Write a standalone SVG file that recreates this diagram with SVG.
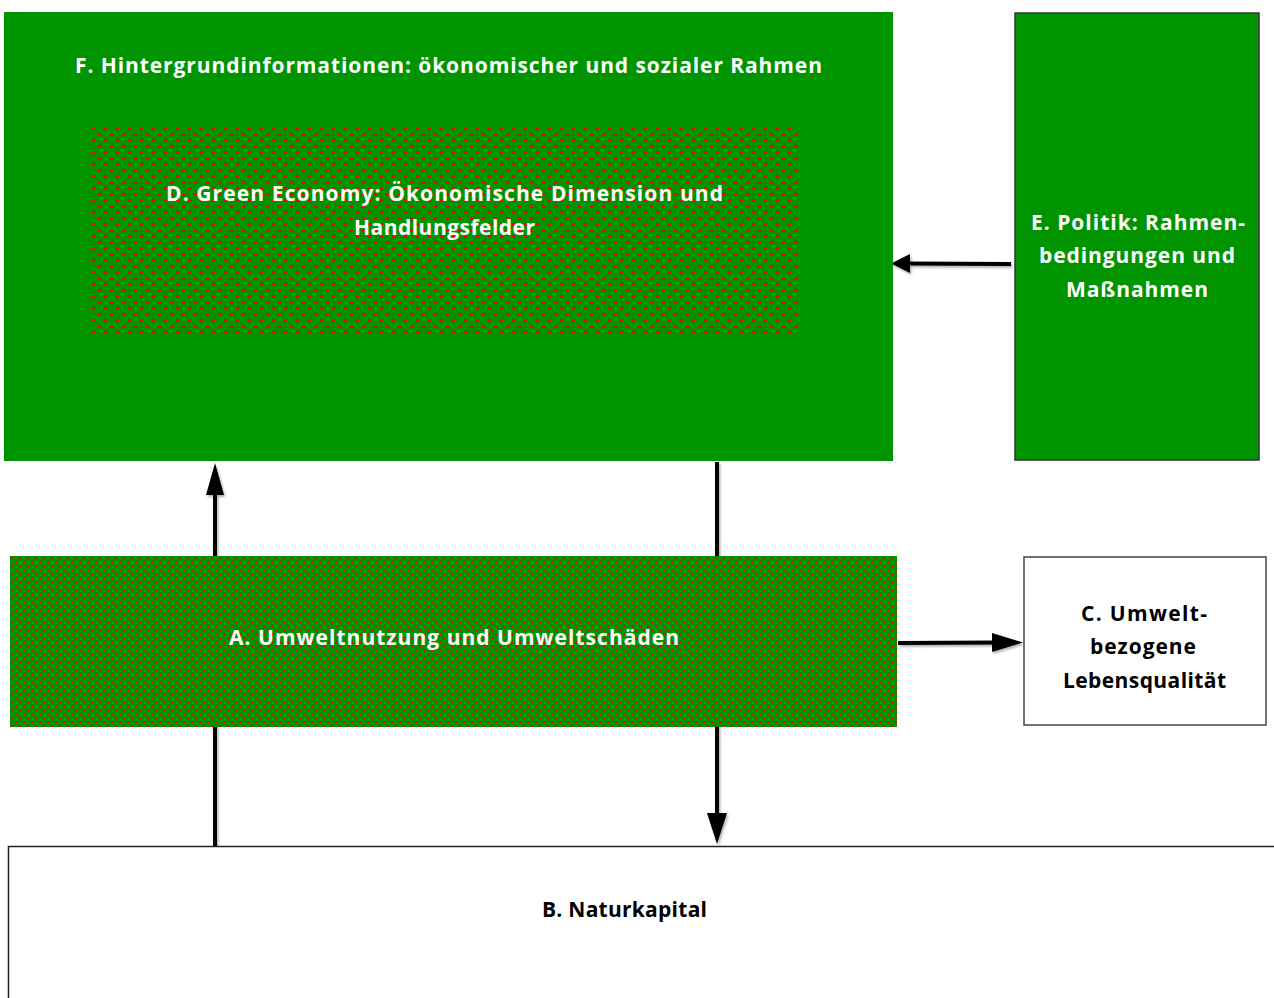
<svg xmlns="http://www.w3.org/2000/svg" width="1274" height="998" viewBox="0 0 1274 998">
  <style>
    .lbl { font-family: "Open Sans", "Liberation Sans", Arial, sans-serif; font-weight: bold; font-size: 21px; text-anchor: middle; }
    .w { fill: #ffffff; }
    .k { fill: #000000; }
    .green { fill: #009400; }
    .edge { fill: none; stroke: #000000; stroke-width: 4; }
    .tip { fill: #000000; }
  </style>
  <defs>
    <!-- coarse red dot raster on green -->
    <pattern id="dotsCoarse" x="91" y="126" width="12" height="12" patternUnits="userSpaceOnUse">
      <rect width="12" height="12" fill="#009400"/>
      <rect x="1" y="1" width="3" height="3" fill="#ff0000"/>
      <rect x="7" y="7" width="3" height="3" fill="#ff0000"/>
    </pattern>
    <!-- fine red dot raster on green -->
    <pattern id="dotsFine" x="10" y="556" width="8" height="8" patternUnits="userSpaceOnUse">
      <rect width="8" height="8" fill="#009400"/>
      <rect x="1" y="1" width="2.5" height="2.5" fill="#ff0000"/>
      <rect x="5" y="5" width="2.5" height="2.5" fill="#ff0000"/>
    </pattern>
    <filter id="shade" x="-10%" y="-10%" width="130%" height="130%">
      <feDropShadow dx="1.5" dy="2" stdDeviation="1.2" flood-color="#000000" flood-opacity="0.3"/>
    </filter>
  </defs>

  <rect width="1274" height="998" fill="#ffffff"/>

  <!-- connectors -->
  <g id="connectors" filter="url(#shade)">
    <!-- B up to F (passes behind A) -->
    <line class="edge" x1="215" y1="846" x2="215" y2="492"/>
    <polygon class="tip" points="215,463 224,495 206,495"/>
    <!-- F down to B (passes behind A) -->
    <line class="edge" x1="717" y1="462" x2="717" y2="816"/>
    <polygon class="tip" points="717,844 707,813 727,813"/>
    <!-- E to F -->
    <line class="edge" x1="1011" y1="264" x2="908" y2="263.5"/>
    <polygon class="tip" points="891,263.5 910,254 910,273"/>
    <!-- A to C -->
    <line class="edge" x1="898" y1="643" x2="995" y2="642.5"/>
    <polygon class="tip" points="1023,642.5 992,633 992,652"/>
  </g>

  <g id="nodeF">
    <rect class="green" x="4" y="12" width="889" height="449"/>
    <text class="lbl w" x="448.5" y="73" textLength="747" lengthAdjust="spacing">F. Hintergrundinformationen: ökonomischer und sozialer Rahmen</text>
  </g>

  <g id="nodeD">
    <rect x="91" y="126" width="706" height="207" fill="url(#dotsCoarse)"/>
    <text class="lbl w" x="444.5" y="201" textLength="557" lengthAdjust="spacing">D. Green Economy: Ökonomische Dimension und</text>
    <text class="lbl w" x="444.5" y="235" textLength="181" lengthAdjust="spacing">Handlungsfelder</text>
  </g>

  <g id="nodeE">
    <rect class="green" x="1015" y="13" width="244" height="447" stroke="#333333" stroke-width="1.5"/>
    <text class="lbl w" x="1138" y="230" textLength="214" lengthAdjust="spacing">E. Politik: Rahmen-</text>
    <text class="lbl w" x="1137" y="263" textLength="196" lengthAdjust="spacing">bedingungen und</text>
    <text class="lbl w" x="1137" y="297" textLength="142" lengthAdjust="spacing">Maßnahmen</text>
  </g>

  <g id="nodeA">
    <rect x="10" y="556" width="887" height="171" fill="url(#dotsFine)"/>
    <text class="lbl w" x="454" y="645" textLength="450" lengthAdjust="spacing">A. Umweltnutzung und Umweltschäden</text>
  </g>

  <g id="nodeC">
    <rect x="1024" y="557" width="242" height="168" fill="#ffffff" stroke="#444444" stroke-width="1.5"/>
    <text class="lbl k" x="1144" y="621" textLength="126" lengthAdjust="spacing">C. Umwelt-</text>
    <text class="lbl k" x="1143" y="654" textLength="106" lengthAdjust="spacing">bezogene</text>
    <text class="lbl k" x="1144.5" y="688" textLength="163" lengthAdjust="spacing">Lebensqualität</text>
  </g>

  <g id="nodeB">
    <rect x="8.5" y="846.5" width="1280" height="170" fill="#ffffff" stroke="#222222" stroke-width="1.5"/>
    <text class="lbl k" x="624.5" y="917" textLength="165" lengthAdjust="spacing">B. Naturkapital</text>
  </g>
</svg>
